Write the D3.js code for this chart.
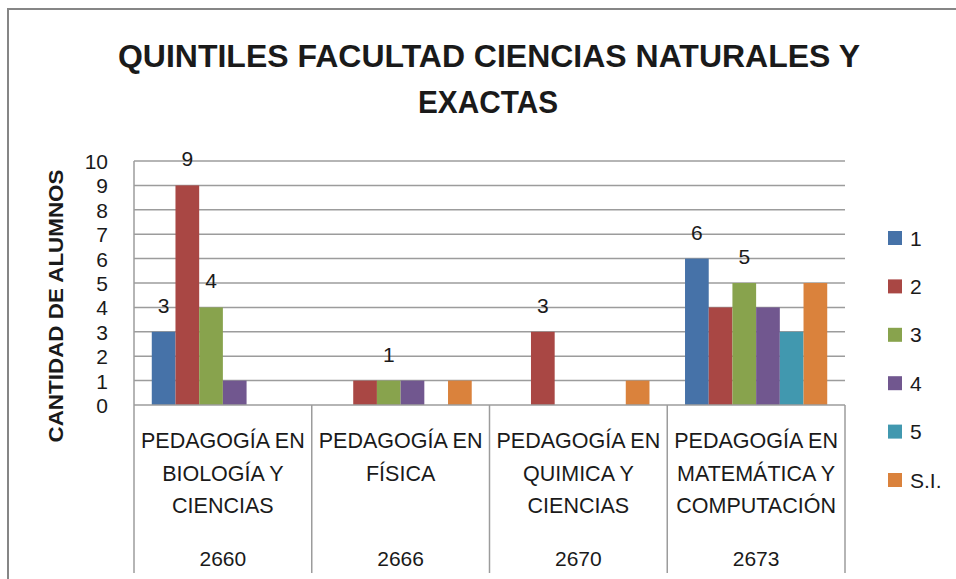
<!DOCTYPE html>
<html lang="es">
<head>
<meta charset="utf-8">
<script src="https://cdn.jsdelivr.net/npm/d3@7"></script>
<style>
  body { margin: 0; background: #fff; }
  text { font-family: "Liberation Sans", Arial, sans-serif; fill: #1a1a1a; }
</style>
</head>
<body>
<script>
  // datos
  var carreras = [
    ["PEDAGOGÍA EN", "BIOLOGÍA Y", "CIENCIAS"],
    ["PEDAGOGÍA EN", "FÍSICA"],
    ["PEDAGOGÍA EN", "QUIMICA Y", "CIENCIAS"],
    ["PEDAGOGÍA EN", "MATEMÁTICA Y", "COMPUTACIÓN"]
  ];
  var codigos = ["2660", "2666", "2670", "2673"];
  var quintiles = ["1", "2", "3", "4", "5", "S.I."];
  var colores = ["#4672A8", "#A94744", "#88A34D", "#71578F", "#4198AF", "#DA823C"];

  // valores por quintil (una fila por serie, una columna por carrera)
  var q1 = [3, 0, 0, 6];
  var q2 = [9, 1, 3, 4];
  var q3 = [4, 1, 0, 5];
  var q4 = [1, 1, 0, 4];
  var q5 = [0, 0, 0, 3];
  var qSI = [0, 1, 1, 5];
  var valores = [q1, q2, q3, q4, q5, qSI];

  // etiquetas de datos visibles en el original
  var etiquetas = [
    [true, false, false, true],
    [true, false, true, false],
    [true, true, false, true],
    [false, false, false, false],
    [false, false, false, false],
    [false, false, false, false]
  ];

  var yTicks = [0, 1, 2, 3, 4, 5, 6, 7, 8, 9, 10];

  var w = 956, h = 579;
  var pLeft = 134, pRight = 845, pTop = 161, pBottom = 405;

  var svg = d3.select("body").append("svg")
    .attr("width", w)
    .attr("height", h);

  // marco del gráfico
  svg.append("rect")
    .attr("x", 8).attr("y", 9)
    .attr("width", 970).attr("height", 620)
    .attr("fill", "none")
    .attr("stroke", "#868686")
    .attr("stroke-width", 2);

  // título
  var titulo = svg.append("g");
  titulo.append("text")
    .attr("x", 489).attr("y", 67)
    .attr("text-anchor", "middle")
    .attr("textLength", 742)
    .attr("lengthAdjust", "spacingAndGlyphs")
    .style("font-size", "32px").style("font-weight", "bold")
    .text("QUINTILES FACULTAD CIENCIAS NATURALES Y");
  titulo.append("text")
    .attr("x", 488).attr("y", 113)
    .attr("text-anchor", "middle")
    .attr("textLength", 140)
    .attr("lengthAdjust", "spacingAndGlyphs")
    .style("font-size", "32px").style("font-weight", "bold")
    .text("EXACTAS");

  var y = d3.scaleLinear().domain([0, 10]).range([pBottom, pTop]);
  var x0 = d3.scaleBand().domain(d3.range(carreras.length)).range([pLeft, pRight]).paddingInner(0).paddingOuter(0);
  var x1 = d3.scaleBand().domain(d3.range(quintiles.length)).range([0, x0.bandwidth()]).paddingInner(0).paddingOuter(0.75);

  // líneas de grilla
  svg.append("g").selectAll("line")
    .data(yTicks.filter(function(d) { return d > 0; }))
    .join("line")
    .attr("x1", pLeft).attr("x2", pRight)
    .attr("y1", function(d) { return y(d); })
    .attr("y2", function(d) { return y(d); })
    .attr("stroke", "#9c9c9c")
    .attr("stroke-width", 1.5);

  // eje y
  var ejeY = svg.append("g")
    .attr("transform", "translate(" + pLeft + ",0)")
    .call(d3.axisLeft(y).tickValues(yTicks).tickSize(0).tickPadding(26));
  ejeY.select(".domain").remove();
  ejeY.selectAll("text")
    .style("font-size", "21px")
    .style("font-family", "'Liberation Sans', Arial, sans-serif")
    .attr("fill", "#1a1a1a")
    .attr("dy", "0.36em");

  svg.append("text")
    .attr("transform", "translate(63,306) rotate(-90)")
    .attr("text-anchor", "middle")
    .attr("textLength", 273)
    .attr("lengthAdjust", "spacingAndGlyphs")
    .style("font-size", "21px").style("font-weight", "bold")
    .text("CANTIDAD DE ALUMNOS");

  // barras
  var series = svg.append("g").selectAll("g")
    .data(valores)
    .join("g")
    .attr("fill", function(d, i) { return colores[i]; });

  series.selectAll("rect")
    .data(function(d, i) { return d.map(function(v, j) { return {s: i, c: j, v: v}; }); })
    .join("rect")
    .attr("x", function(d) { return x0(d.c) + x1(d.s); })
    .attr("y", function(d) { return y(d.v); })
    .attr("width", x1.bandwidth())
    .attr("height", function(d) { return y(0) - y(d.v); });

  // etiquetas de datos
  var datosEtiqueta = [];
  valores.forEach(function(serie, i) {
    serie.forEach(function(v, j) {
      if (etiquetas[i][j]) datosEtiqueta.push({s: i, c: j, v: v});
    });
  });
  svg.append("g").selectAll("text")
    .data(datosEtiqueta)
    .join("text")
    .attr("x", function(d) { return x0(d.c) + x1(d.s) + x1.bandwidth() / 2; })
    .attr("y", function(d) { return y(d.v) - 19; })
    .attr("text-anchor", "middle")
    .style("font-size", "21px")
    .text(function(d) { return d.v; });

  // ejes: línea vertical izquierda, base y divisiones de categorías
  var ejes = svg.append("g").attr("stroke", "#9c9c9c").attr("stroke-width", 1.5);
  ejes.append("line")
    .attr("x1", pLeft).attr("x2", pLeft)
    .attr("y1", pTop).attr("y2", pBottom);
  ejes.append("line")
    .attr("x1", pLeft).attr("x2", pRight)
    .attr("y1", y(0)).attr("y2", y(0));
  ejes.selectAll("line.div")
    .data(d3.range(carreras.length + 1))
    .join("line")
    .attr("class", "div")
    .attr("x1", function(d) { return pLeft + d * x0.bandwidth(); })
    .attr("x2", function(d) { return pLeft + d * x0.bandwidth(); })
    .attr("y1", pBottom).attr("y2", 573);

  // rótulos de categorías (dos niveles)
  var cat = svg.append("g").selectAll("g")
    .data(carreras)
    .join("g")
    .attr("transform", function(d, i) { return "translate(" + (x0(i) + x0.bandwidth() / 2) + ",0)"; });

  cat.selectAll("text")
    .data(function(d) { return d; })
    .join("text")
    .attr("x", 0)
    .attr("y", function(d, i) { return 448 + i * 32.5; })
    .attr("text-anchor", "middle")
    .style("font-size", "21.5px")
    .text(function(d) { return d; });

  svg.append("g").selectAll("text")
    .data(codigos)
    .join("text")
    .attr("x", function(d, i) { return x0(i) + x0.bandwidth() / 2; })
    .attr("y", 566)
    .attr("text-anchor", "middle")
    .style("font-size", "21px")
    .text(function(d) { return d; });

  // leyenda
  var leyenda = svg.append("g").selectAll("g")
    .data(quintiles)
    .join("g")
    .attr("transform", function(d, i) { return "translate(888," + (238 + i * 48.4) + ")"; });
  leyenda.append("rect")
    .attr("x", 0).attr("y", -7)
    .attr("width", 14).attr("height", 14)
    .attr("fill", function(d, i) { return colores[i]; });
  leyenda.append("text")
    .attr("x", 22).attr("y", 0)
    .attr("dy", "0.36em")
    .style("font-size", "21px")
    .text(function(d) { return d; });
</script>
</body>
</html>
